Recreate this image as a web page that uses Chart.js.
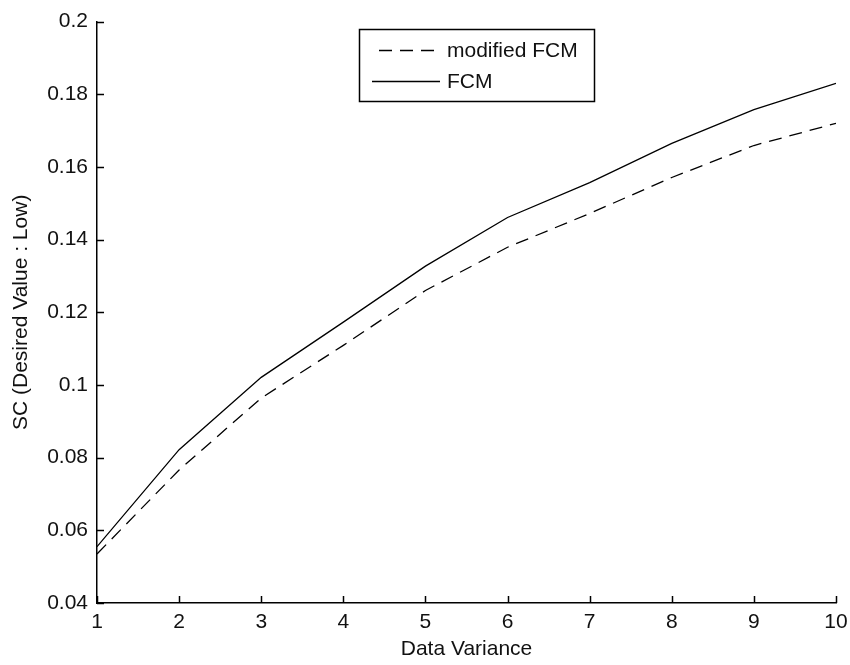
<!DOCTYPE html>
<html>
<head>
<meta charset="utf-8">
<script src="https://cdn.jsdelivr.net/npm/chart.js@4/dist/chart.umd.min.js"></script>
<style>
  html, body { margin: 0; padding: 0; background: #fff; }
  #wrap { width: 850px; height: 665px; }
</style>
</head>
<body>
<div id="wrap"><canvas id="c" width="850" height="665"></canvas></div>
<script>
// ---- data ----
const xValues = [1, 2, 3, 4, 5, 6, 7, 8, 9, 10];
const modifiedFCM = [0.0535, 0.0766, 0.0964, 0.1109, 0.1260, 0.1379, 0.1472, 0.1571, 0.1659, 0.1720];
const fcm = [0.0555, 0.0822, 0.1021, 0.1173, 0.1327, 0.1461, 0.1557, 0.1665, 0.1758, 0.1830];
const seriesLabels = ['modified FCM', 'FCM'];
const xTicks = [1, 2, 3, 4, 5, 6, 7, 8, 9, 10];
const xTickLabels = ['1', '2', '3', '4', '5', '6', '7', '8', '9', '10'];
const yTicks = [0.04, 0.06, 0.08, 0.1, 0.12, 0.14, 0.16, 0.18, 0.2];
const yTickLabels = ['0.04', '0.06', '0.08', '0.1', '0.12', '0.14', '0.16', '0.18', '0.2'];
const xTitle = 'Data Variance';
const yTitle = 'SC (Desired Value : Low)';

const FONT = 'Liberation Sans, Arial, sans-serif';
const TEXT = '#111';
const DASH = [13, 8];

function pts(vals) { return xValues.map((x, i) => ({ x: x, y: vals[i] })); }

// inward tick marks (MATLAB style), using the library's scales
const inwardTicks = {
  id: 'inwardTicks',
  afterDatasetsDraw(chart) {
    const ctx = chart.ctx;
    const xs = chart.scales.x, ys = chart.scales.y;
    const a = chart.chartArea;
    ctx.save();
    ctx.strokeStyle = '#000';
    ctx.lineWidth = 1.5;
    ctx.beginPath();
    xTicks.forEach(v => {
      const px = Math.round(xs.getPixelForValue(v)) + 0.5;
      ctx.moveTo(px, a.bottom); ctx.lineTo(px, a.bottom - 7);
    });
    yTicks.forEach(v => {
      const py = Math.round(ys.getPixelForValue(v)) + 0.5;
      ctx.moveTo(a.left, py); ctx.lineTo(a.left + 7, py);
    });
    ctx.stroke();
    ctx.restore();
  }
};

// boxed legend, MATLAB style
const boxLegend = {
  id: 'boxLegend',
  afterDraw(chart) {
    const ctx = chart.ctx;
    const bx = 359, by = 29, bw = 235, bh = 72;
    ctx.save();
    ctx.fillStyle = '#fff';
    ctx.fillRect(bx, by, bw, bh);
    ctx.strokeStyle = '#000';
    ctx.lineWidth = 1.5;
    ctx.strokeRect(bx + 0.5, by + 0.5, bw, bh);
    const rows = [50, 81];
    chart.data.datasets.forEach((ds, i) => {
      const y = rows[i] + 0.5;
      ctx.strokeStyle = ds.borderColor;
      ctx.lineWidth = ds.borderWidth;
      ctx.setLineDash(ds.borderDash || []);
      ctx.beginPath();
      ctx.moveTo(i === 0 ? 379 : 372, y);
      ctx.lineTo(440, y);
      ctx.stroke();
      ctx.setLineDash([]);
      ctx.fillStyle = TEXT;
      ctx.font = '21px ' + FONT;
      ctx.textBaseline = 'middle';
      ctx.textAlign = 'left';
      ctx.fillText(ds.label, 447, rows[i] + 1);
    });
    ctx.restore();
  }
};

new Chart(document.getElementById('c'), {
  type: 'line',
  data: {
    datasets: [
      { label: seriesLabels[0], data: pts(modifiedFCM), borderColor: '#000', borderWidth: 1.3,
        borderDash: DASH, pointRadius: 0, tension: 0, fill: false },
      { label: seriesLabels[1], data: pts(fcm), borderColor: '#000', borderWidth: 1.3,
        pointRadius: 0, tension: 0, fill: false }
    ]
  },
  options: {
    responsive: false,
    animation: false,
    devicePixelRatio: 1,
    layout: { padding: { left: 0, right: 14, top: 21, bottom: 0 } },
    plugins: { legend: { display: false }, tooltip: { enabled: false } },
    scales: {
      x: {
        type: 'linear', min: 1, max: 10,
        afterFit(s) { s.height = 62; s.paddingRight = 0; },
        afterBuildTicks(s) { s.ticks = xTicks.map(v => ({ value: v })); },
        grid: { display: true, drawOnChartArea: false, drawTicks: false },
        border: { display: true, color: '#000', width: 1.5 },
        ticks: {
          color: TEXT, font: { family: FONT, size: 21 }, padding: 7, maxRotation: 0,
          callback: (v) => xTickLabels[xTicks.indexOf(v)]
        },
        title: { display: true, text: xTitle, color: TEXT, font: { family: FONT, size: 21 },
                 padding: { top: 0, bottom: 3 } }
      },
      y: {
        type: 'linear', min: 0.04, max: 0.2,
        afterFit(s) { s.width = 97; },
        afterBuildTicks(s) { s.ticks = yTicks.map(v => ({ value: v })); },
        grid: { display: true, drawOnChartArea: false, drawTicks: false },
        border: { display: true, color: '#000', width: 1.5 },
        ticks: {
          color: TEXT, font: { family: FONT, size: 21 }, padding: 9,
          callback: (v) => yTickLabels[yTicks.findIndex(t => Math.abs(t - v) < 1e-9)]
        },
        title: { display: true, text: yTitle, color: TEXT, font: { family: FONT, size: 21 },
                 padding: { top: 9, bottom: 0 } }
      }
    }
  },
  plugins: [inwardTicks, boxLegend]
});
</script>
</body>
</html>
